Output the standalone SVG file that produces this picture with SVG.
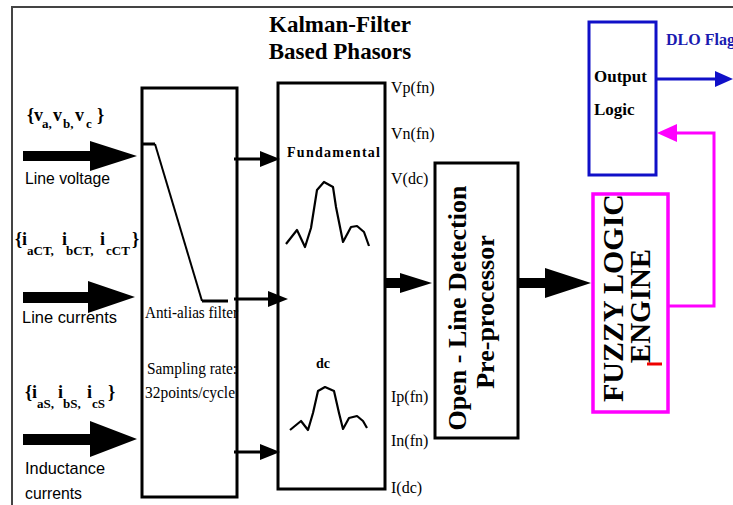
<svg xmlns="http://www.w3.org/2000/svg" width="733" height="505" viewBox="0 0 733 505">
<style>
.box{fill:none;stroke:#000;stroke-width:3}
.ser{font-family:"Liberation Serif",serif;fill:#000}
.b{font-weight:bold}
.sans{font-family:"Liberation Sans",sans-serif;fill:#000;font-size:17px}
.lab{font-family:"Liberation Serif",serif;font-size:16px;fill:#000}
.thin{stroke:#000;stroke-width:3;fill:none}
.wave{stroke:#000;stroke-width:2.2;fill:none;stroke-linejoin:round}
</style>
<rect width="733" height="505" fill="#fff"/>
<path d="M12,505 V7 H733" fill="none" stroke="#444" stroke-width="2"/>

<g id="inputs">
  <text class="ser b" font-size="18"><tspan x="27" y="121">{v</tspan><tspan x="42" y="128" font-size="13">a,</tspan><tspan x="53" y="121">v</tspan><tspan x="63" y="128" font-size="13">b,</tspan><tspan x="75" y="121">v</tspan><tspan x="86" y="128" font-size="13">c</tspan><tspan x="97" y="121">}</tspan></text>
  <text class="sans" x="25" y="184" textLength="85" lengthAdjust="spacingAndGlyphs">Line voltage</text>
  <text class="ser b" font-size="18"><tspan x="15" y="245">{i</tspan><tspan x="27" y="255" font-size="13">aCT,</tspan><tspan x="62" y="245">i</tspan><tspan x="66" y="255" font-size="13">bCT,</tspan><tspan x="100" y="245">i</tspan><tspan x="106" y="255" font-size="13">cCT</tspan><tspan x="132" y="245">}</tspan></text>
  <text class="sans" x="22" y="323" textLength="95" lengthAdjust="spacingAndGlyphs">Line currents</text>
  <text class="ser b" font-size="18"><tspan x="25" y="398">{i</tspan><tspan x="37" y="408" font-size="13">aS,</tspan><tspan x="58" y="398">i</tspan><tspan x="63" y="408" font-size="13">bS,</tspan><tspan x="87" y="398">i</tspan><tspan x="92" y="408" font-size="13">cS</tspan><tspan x="108" y="398">}</tspan></text>
  <text class="sans" x="25" y="474" textLength="80" lengthAdjust="spacingAndGlyphs">Inductance</text>
  <text class="sans" x="25" y="499" textLength="57" lengthAdjust="spacingAndGlyphs">currents</text>
</g>

<g id="antialias">
  <rect class="box" x="142" y="88" width="95" height="409"/>
  <path d="M142,144 H155" stroke="#000" stroke-width="3"/>
  <path d="M155,144 L202,301" stroke="#000" stroke-width="2"/>
  <path d="M202,301 H228" stroke="#000" stroke-width="3"/>
  <text class="ser" font-size="16" x="145" y="318" textLength="93" lengthAdjust="spacingAndGlyphs">Anti-alias filter</text>
  <text class="ser" font-size="16" x="147" y="374" textLength="90" lengthAdjust="spacingAndGlyphs">Sampling rate:</text>
  <text class="ser" font-size="16" x="145" y="398" textLength="90" lengthAdjust="spacingAndGlyphs">32points/cycle</text>
</g>

<g id="kalman">
  <text class="ser b" font-size="23" x="340" y="32" text-anchor="middle">Kalman-Filter</text>
  <text class="ser b" font-size="23" x="340" y="59" text-anchor="middle">Based Phasors</text>
  <rect class="box" x="278" y="83" width="107" height="406"/>
  <text class="ser b" font-size="14" x="287" y="157" textLength="93" lengthAdjust="spacing">Fundamental</text>
  <polyline class="wave" points="286,244 297,230 305,247 311,228 317,190 324,182 333,187 336,207 343,242 351,227 357,226 364,232 369,246"/>
  <text class="ser b" font-size="14" x="323" y="368" text-anchor="middle">dc</text>
  <polyline class="wave" points="290,430 301,421 308,430 313,413 318,391 325,387 334,391 339,413 343,429 349,418 357,416 363,421 367,428"/>
  <text class="lab" x="391" y="93">Vp(fn)</text>
  <text class="lab" x="391" y="139">Vn(fn)</text>
  <text class="lab" x="391" y="184">V(dc)</text>
  <text class="lab" x="391" y="402">Ip(fn)</text>
  <text class="lab" x="391" y="446">In(fn)</text>
  <text class="lab" x="391" y="493">I(dc)</text>
</g>

<g id="openline">
  <rect class="box" x="435" y="163" width="83" height="275"/>
  <text class="ser b" font-size="26" transform="translate(466,308) rotate(-90)" text-anchor="middle">Open - Line Detection</text>
  <text class="ser b" font-size="26" transform="translate(494,312) rotate(-90)" text-anchor="middle">Pre-processor</text>
</g>

<g id="fuzzy">
  <rect x="593" y="194" width="75" height="218" fill="none" stroke="#f0f" stroke-width="3.5"/>
  <text class="ser b" font-size="30" transform="translate(623,298) rotate(-90)" text-anchor="middle">FUZZY LOGIC</text>
  <text class="ser b" font-size="29" transform="translate(650,306) rotate(-90)" text-anchor="middle">ENGINE</text>
  <path d="M647,364 H662" stroke="#e00" stroke-width="3"/>
</g>

<g id="output">
  <rect x="589" y="22" width="67" height="153" fill="none" stroke="#1010c8" stroke-width="3"/>
  <text class="ser b" font-size="17" x="594" y="82">Output</text>
  <text class="ser b" font-size="17" x="594" y="115">Logic</text>
  <text class="ser b" font-size="16" x="666" y="45" style="fill:#1a1ab0">DLO Flag</text>
</g>

<g id="connectors">
  <polygon points="23,151 90,151 90,141 137,156 90,171 90,161 23,161" fill="#000"/>
  <polygon points="23,292 88,292 88,281 135,297 88,313 88,303 23,303" fill="#000"/>
  <polygon points="23,434 90,434 90,421 137,439 90,457 90,445 23,445" fill="#000"/>
  <path class="thin" d="M234,159 H262"/>
  <polygon points="280,159 260,151 260,167" fill="#000"/>
  <path class="thin" d="M234,299 H270"/>
  <polygon points="288,299 268,291 268,307" fill="#000"/>
  <path class="thin" d="M234,452 H262"/>
  <polygon points="280,452 260,444 260,460" fill="#000"/>
  <polygon points="385,278 400,278 400,273 432,283 400,293 400,288 385,288" fill="#000"/>
  <polygon points="518,278 545,278 545,268 591,283 545,298 545,288 518,288" fill="#000"/>
  <path d="M668,306 H714 V133 H675" fill="none" stroke="#f0f" stroke-width="3"/>
  <polygon points="657,133 677,124 677,142" fill="#f0f"/>
  <path d="M656,79 H718" stroke="#1010c8" stroke-width="3"/>
  <polygon points="733,79 715,71 715,87" fill="#1010c8"/>
</g>
</svg>
